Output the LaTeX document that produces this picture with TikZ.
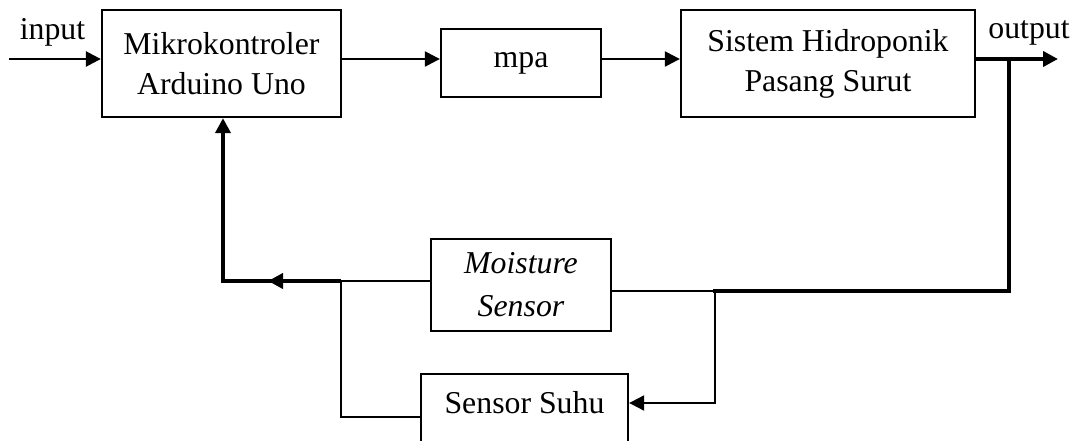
\documentclass[tikz,border=0pt]{standalone}
\usepackage{fontspec}
\setmainfont{Liberation Serif}
\usetikzlibrary{arrows.meta}
\begin{document}
\begin{tikzpicture}[x=1pt,y=-1pt,
  every node/.style={font=\fontsize{31.8}{40}\selectfont},
  blok/.style={draw, line width=2.3pt, align=center, inner sep=0pt},
  tipis/.style={line width=2pt},
  tebal/.style={line width=3.8pt},
  panah/.style={-{Triangle[length=15pt,width=15pt]}},
  label/.style={anchor=base, inner sep=0pt}
]
\useasboundingbox (0,0) rectangle (1078,441);

% blocks
\node[blok, minimum width=239pt, minimum height=107pt] (mikro) at (221.5,63.5) {Mikrokontroler\\Arduino Uno};
\node[blok, minimum width=160pt, text height=39pt, text depth=29pt, anchor=base] (mpa) at (521,68) {mpa};
\node[blok, minimum width=294pt, minimum height=107pt] (sistem) at (828,63.5) {Sistem Hidroponik\\Pasang Surut};
\node[blok, minimum width=180pt, minimum height=92pt, font=\fontsize{31.8}{43}\selectfont\itshape] (moist) at (521,285) {Moisture\\Sensor};
\node[blok, minimum width=207pt, text height=39pt, text depth=51pt, anchor=base] (suhu) at (524.5,413) {Sensor Suhu};

% labels
\node[label] (lin) at (52.5,40) {input};
\node[label] (lout) at (1029,39) {output};

% coordinates
\coordinate (in) at (9,59);
\coordinate (out) at (1058,59);
\coordinate (j1) at (1009,59);
\coordinate (j2) at (1009,291);
\coordinate (j3) at (715,291);
\coordinate (j5) at (715,403);
\coordinate (j4) at (341,281);
\coordinate (j6) at (341,417);
\coordinate (c1) at (223,281);
\coordinate (m1) at (268,281);

% forward path
\draw[tipis, line width=2.6pt, panah] (in) -- (in -| mikro.west);
\draw[tipis, line width=2.3pt, panah] (mikro.east |- in) -- (mpa.west |- in);
\draw[tipis, line width=2.3pt, panah] (mpa.east |- in) -- (sistem.west |- in);
\draw[tebal, panah] (sistem.east |- in) -- (out);

% feedback
\draw[tebal, line cap=rect] (j1) -- (j2) -- (j3);
\draw[tipis] (j3) -- (moist.east |- j3);
\draw[tipis, panah] (j3) -- (j5) -- (suhu.east |- j5);
\draw[tipis] (moist.west |- j4) -- (j4);
\draw[tipis] (j4) -- (j6) -- (suhu.west |- j6);
\draw[tebal, panah] (j4) -- (c1) -- (mikro.south -| c1);
\draw[tebal, panah] (j4) -- (m1);
\end{tikzpicture}
\end{document}
